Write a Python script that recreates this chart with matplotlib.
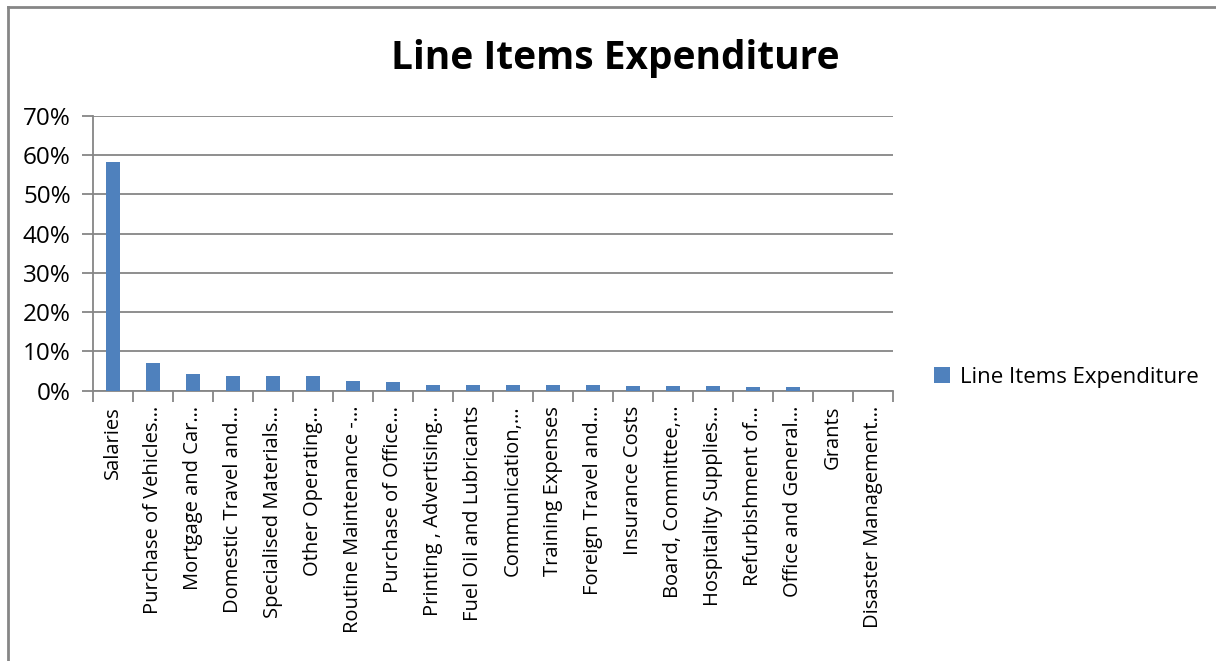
import matplotlib
matplotlib.use("Agg")
import matplotlib.pyplot as plt
from matplotlib.lines import Line2D
from matplotlib.ticker import FuncFormatter, FixedLocator

categories = [
    "Salaries",
    "Purchase of Vehicles…",
    "Mortgage and Car…",
    "Domestic Travel and…",
    "Specialised Materials…",
    "Other Operating…",
    "Routine Maintenance -…",
    "Purchase of Office…",
    "Printing , Advertising…",
    "Fuel Oil and Lubricants",
    "Communication,…",
    "Training Expenses",
    "Foreign Travel and…",
    "Insurance Costs",
    "Board, Committee,…",
    "Hospitality Supplies…",
    "Refurbishment of…",
    "Office and General…",
    "Grants",
    "Disaster Management…",
]
values = [58.2, 6.9, 4.3, 3.7, 3.7, 3.7, 2.4, 2.2, 1.4, 1.4,
          1.4, 1.4, 1.4, 1.1, 1.1, 1.1, 0.85, 0.85, 0.0, 0.0]
yticks = [0, 10, 20, 30, 40, 50, 60, 70]
series_name = "Line Items Expenditure"
title = "Line Items Expenditure"

FONT = ["Open Sans", "DejaVu Sans"]
plt.rcParams["font.family"] = FONT

W, H = 1216, 661
fig = plt.figure(figsize=(W / 100, H / 100), dpi=100)
fig.patch.set_facecolor("white")

ax = fig.add_axes([93 / W, 1 - 390.5 / H, (893 - 93) / W, (390.5 - 116) / H])
x = list(range(len(categories)))
ax.bar(x, values, width=0.35, color="#4F81BD", label=series_name, zorder=3)

ax.set_xlim(-0.5, len(categories) - 0.5)
ax.set_ylim(0, 70)
ax.set_yticks(yticks)
ax.yaxis.set_major_formatter(FuncFormatter(lambda v, p: f"{int(v)}%"))
ax.grid(axis="y", color="#868686", linewidth=1.3, zorder=0)
ax.set_axisbelow(True)

ax.set_xticks(x)
ax.set_xticklabels(categories, rotation=90, fontsize=14.5)
ax.xaxis.set_minor_locator(FixedLocator([i - 0.5 for i in range(len(categories) + 1)]))
ax.tick_params(axis="x", which="major", length=0, pad=11)
ax.tick_params(axis="x", which="minor", length=8, color="#868686", width=1.3)
ax.tick_params(axis="y", length=8, color="#868686", width=1.3, labelsize=17.5, pad=8)

for s in ["top", "right"]:
    ax.spines[s].set_visible(False)
for s in ["left", "bottom"]:
    ax.spines[s].set_color("#868686")
    ax.spines[s].set_linewidth(1.3)

fig.text(615 / W, 1 - 59 / H, title, ha="center", va="center",
         fontsize=28, fontweight="bold")

ax.legend(loc="center left", bbox_to_anchor=(914 / W, 1 - 377 / H),
          bbox_transform=fig.transFigure, frameon=False, fontsize=16,
          handlelength=0.7, handleheight=0.7, handletextpad=0.45)

# chart border (left and top edges visible)
fig.add_artist(Line2D([8 / W, 8 / W], [0, 1 - 7 / H], transform=fig.transFigure,
                      color="#868686", linewidth=2))
fig.add_artist(Line2D([8 / W, 1], [1 - 7 / H, 1 - 7 / H], transform=fig.transFigure,
                      color="#868686", linewidth=2))

fig.savefig("out.png", dpi=100)
